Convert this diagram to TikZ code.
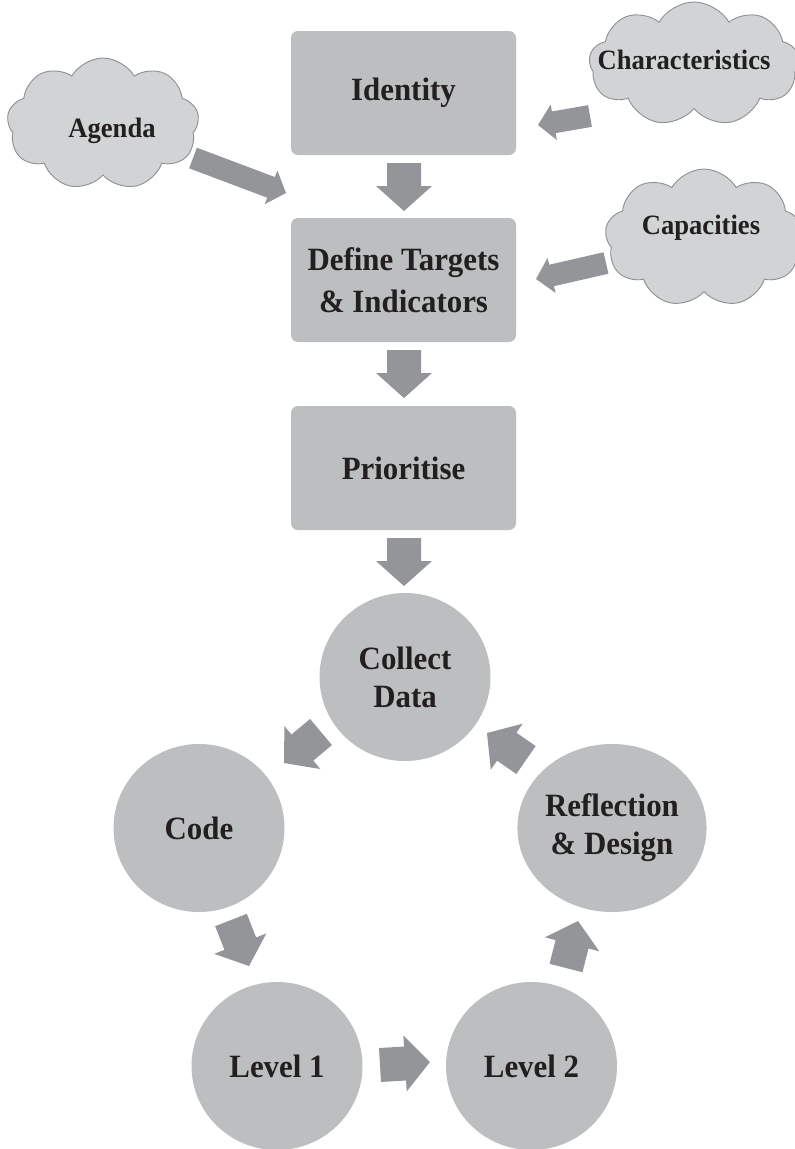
\documentclass[tikz,border=0pt]{standalone}
\usepackage{fontspec}
\setmainfont{Liberation Serif}
\newfontfamily\diagfont[FakeStretch=0.95]{Liberation Serif}
\usetikzlibrary{shapes.geometric,shapes.symbols,calc}
\definecolor{boxfill}{HTML}{BCBEC0}
\definecolor{arrowfill}{HTML}{939598}
\definecolor{cloudfill}{HTML}{D1D3D4}
\definecolor{cloudline}{HTML}{8D8F92}
\definecolor{ink}{HTML}{231F20}
\tikzset{
  stepbox/.style={fill=boxfill, rounded corners=7pt, minimum width=225pt, minimum height=124pt,
    inner sep=0pt, align=center, text=ink, font=\diagfont\bfseries\fontsize{32.5}{42}\selectfont},
  stage/.style={ellipse, fill=boxfill, minimum width=171pt, minimum height=168pt,
    inner sep=0pt, align=center, text=ink, font=\diagfont\bfseries\fontsize{32.5}{38}\selectfont},
  cloudshape/.style={cloud, cloud puffs=9, cloud puff arc=120, draw=cloudline, line width=0.9pt,
    fill=cloudfill, inner sep=0pt},
  cloudtext/.style={inner sep=0pt, text=ink, font=\diagfont\bfseries\fontsize{28}{32}\selectfont},
}
% tail, tip, half shaft width, half head width, head length
\newcommand\fatarrow[5]{%
  \path ($(#2)!#5!(#1)$) coordinate (fa-b);
  \fill[arrowfill] ($(#1)!#3!90:(#2)$) -- ($(fa-b)!#3!90:(#2)$) -- ($(fa-b)!#4!90:(#2)$) -- (#2)
    -- ($(fa-b)!#4!-90:(#2)$) -- ($(fa-b)!#3!-90:(#2)$) -- ($(#1)!#3!-90:(#2)$) -- cycle;
}
\begin{document}
\begin{tikzpicture}[x=1pt,y=-1pt]
\useasboundingbox (0,0) rectangle (795,1149);
\clip (0,0) rectangle (795,1149);
\fill[white] (0,0) rectangle (795,1149);

% clouds
\node[cloudshape, minimum width=192pt, minimum height=132pt] (agenda) at (103,124) {};
\node[cloudtext] (agendaT) at (112,131) {Agenda};
\node[cloudshape, minimum width=210pt, minimum height=124pt] (charac) at (694,64) {};
\node[cloudtext] (characT) at (684,60) {Characteristics};
\node[cloudshape, minimum width=198pt, minimum height=138pt] (capac) at (704,238) {};
\node[cloudtext] (capacT) at (701,228) {Capacities};

% boxes
\node[stepbox] (identity) at (403.5,93) {Identity};
\node[stepbox] (targets) at (403.5,280) {Define Targets\\\& Indicators};
\node[stepbox] (prio) at (403.5,468) {Prioritise};

% cycle
\node[stage] (collect) at (405,677) {Collect\\Data};
\node[stage] (code) at (199,828) {Code};
\node[stage] (reflect) at (612,828) {Reflection\\\& Design};
\node[stage] (level1) at (277,1066) {Level 1};
\node[stage] (level2) at (531.5,1066) {Level 2};

% arrow end points
\coordinate (d1t) at (404,163); \coordinate (d1h) at (404,211);
\coordinate (d2t) at (404,350); \coordinate (d2h) at (404,398);
\coordinate (d3t) at (404,538); \coordinate (d3h) at (404,586);
\coordinate (agt) at (193,158); \coordinate (agh) at (286,193);
\coordinate (cht) at (590,116); \coordinate (chh) at (538,125);
\coordinate (cat) at (606,263); \coordinate (cah) at (536,279);
\coordinate (c1t) at (321,732); \coordinate (c1h) at (284,763);
\coordinate (c2t) at (231,920); \coordinate (c2h) at (249,966);
\coordinate (c3t) at (380,1065); \coordinate (c3h) at (430,1062);
\coordinate (c4t) at (566,968); \coordinate (c4h) at (578,921);
\coordinate (c5t) at (526,760); \coordinate (c5h) at (487,733);

\fatarrow{d1t}{d1h}{17pt}{28pt}{25pt}
\fatarrow{d2t}{d2h}{17pt}{28pt}{25pt}
\fatarrow{d3t}{d3h}{17pt}{28pt}{25pt}
\fatarrow{agt}{agh}{11pt}{18pt}{16pt}
\fatarrow{cht}{chh}{11pt}{18pt}{16pt}
\fatarrow{cat}{cah}{11pt}{18pt}{16pt}
\fatarrow{c1t}{c1h}{17pt}{28pt}{24pt}
\fatarrow{c2t}{c2h}{17pt}{28pt}{24pt}
\fatarrow{c3t}{c3h}{17pt}{28pt}{25pt}
\fatarrow{c4t}{c4h}{17pt}{28pt}{24pt}
\fatarrow{c5t}{c5h}{17pt}{28pt}{24pt}
\end{tikzpicture}
\end{document}
